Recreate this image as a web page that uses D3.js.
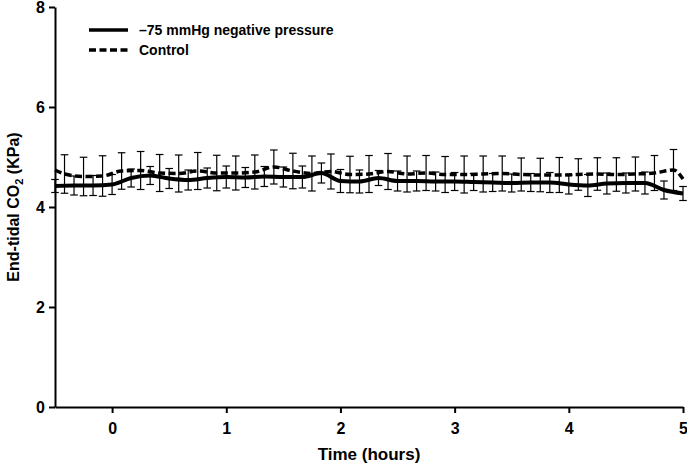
<!DOCTYPE html>
<html>
<head>
<meta charset="utf-8">
<script src="https://cdn.jsdelivr.net/npm/d3@7"></script>
<style>
  html, body { margin: 0; padding: 0; background: #fff; }
  svg { display: block; font-family: "Liberation Sans", Arial, sans-serif; }
</style>
</head>
<body>
<svg id="chart" width="687" height="464"></svg>
<script>
// ---- Data (time in minutes, values in KPa) ----
const negTimes = [-30,-20,-10,0,10,20,30,40,50,60,70,80,90,100,110,120,130,140,150,160,170,180,190,200,210,220,230,240,250,260,270,280,290,300];
const negMeans = [4.42,4.43,4.43,4.45,4.58,4.63,4.57,4.54,4.58,4.60,4.59,4.61,4.60,4.60,4.68,4.52,4.51,4.58,4.52,4.52,4.51,4.51,4.50,4.49,4.48,4.49,4.49,4.45,4.43,4.47,4.48,4.48,4.34,4.27];
const negSD    = [0.13,0.19,0.20,0.20,0.18,0.18,0.20,0.20,0.20,0.22,0.20,0.20,0.20,0.22,0.20,0.23,0.23,0.15,0.20,0.20,0.19,0.18,0.17,0.18,0.18,0.18,0.20,0.19,0.22,0.21,0.20,0.22,0.18,0.14];

const ctrlTimes = [-30,-25,-15,-5,5,15,25,35,45,55,65,75,85,95,105,115,125,135,145,155,165,175,185,195,205,215,225,235,245,255,265,275,285,295,300];
const ctrlMeans = [4.74,4.66,4.61,4.62,4.72,4.73,4.68,4.67,4.72,4.68,4.68,4.70,4.80,4.72,4.67,4.71,4.65,4.66,4.71,4.66,4.68,4.65,4.65,4.66,4.67,4.65,4.64,4.64,4.65,4.66,4.65,4.66,4.68,4.74,4.56];
const ctrlSD    = [null,0.385,0.385,0.405,0.365,0.38,0.37,0.37,0.37,0.355,0.34,0.34,0.34,0.355,0.35,0.35,0.365,0.37,0.36,0.36,0.35,0.36,0.37,0.36,0.35,0.33,0.335,0.35,0.315,0.325,0.335,0.34,0.35,0.41,null];

const xTicks = [0,1,2,3,4,5];
const yTicks = [0,2,4,6,8];
const seriesNames = ["\u201375 mmHg negative pressure", "Control"];

// ---- Layout ----
const svg = d3.select("#chart");
const margin = {left: 55, right: 4, top: 7, bottom: 57};
const W = 687, H = 464;
const x = d3.scaleLinear().domain([-0.5, 5]).range([margin.left, W - margin.right]);
const y = d3.scaleLinear().domain([0, 8]).range([H - margin.bottom, margin.top]);

const neg = negTimes.map((t, i) => ({t: t / 60, m: negMeans[i], sd: negSD[i]}));
const ctrl = ctrlTimes.map((t, i) => ({t: t / 60, m: ctrlMeans[i], sd: ctrlSD[i]}));

const line = d3.line().x(d => x(d.t)).y(d => y(d.m)).curve(d3.curveMonotoneX);

// error bars
function errorBars(data, cls) {
  const g = svg.append("g").attr("class", cls).attr("stroke", "#000").attr("stroke-width", 1.2).attr("fill", "none");
  const d2 = data.filter(d => d.sd != null);
  const cap = 3.8;
  g.selectAll("line.v").data(d2).join("line").attr("class", "v")
    .attr("x1", d => x(d.t)).attr("x2", d => x(d.t))
    .attr("y1", d => y(d.m + d.sd)).attr("y2", d => y(d.m - d.sd));
  g.selectAll("line.t").data(d2).join("line").attr("class", "t")
    .attr("x1", d => x(d.t) - cap).attr("x2", d => x(d.t) + cap)
    .attr("y1", d => y(d.m + d.sd)).attr("y2", d => y(d.m + d.sd));
  g.selectAll("line.b").data(d2).join("line").attr("class", "b")
    .attr("x1", d => x(d.t) - cap).attr("x2", d => x(d.t) + cap)
    .attr("y1", d => y(d.m - d.sd)).attr("y2", d => y(d.m - d.sd));
}
errorBars(ctrl, "err-ctrl");
errorBars(neg, "err-neg");

svg.append("path").datum(ctrl).attr("d", line)
  .attr("fill", "none").attr("stroke", "#000").attr("stroke-width", 3.5)
  .attr("stroke-dasharray", "7,3.5");
svg.append("path").datum(neg).attr("d", line)
  .attr("fill", "none").attr("stroke", "#000").attr("stroke-width", 4);

// axes
const xAxis = svg.append("g").attr("transform", `translate(0,${y(0)})`)
  .call(d3.axisBottom(x).tickValues(xTicks).tickFormat(d3.format("d")).tickSize(6).tickSizeOuter(0));
const yAxis = svg.append("g").attr("transform", `translate(${x(-0.5)},0)`)
  .call(d3.axisLeft(y).tickValues(yTicks).tickFormat(d3.format("d")).tickSize(6).tickSizeOuter(0));
[xAxis, yAxis].forEach(a => {
  a.select(".domain").attr("stroke", "#000").attr("stroke-width", 2);
  a.selectAll(".tick line").attr("stroke", "#000").attr("stroke-width", 2);
  a.selectAll(".tick text").attr("fill", "#000").style("font-size", "16px").style("font-weight", "bold")
    .style("font-family", "'Liberation Sans', Arial, sans-serif");
});
xAxis.selectAll(".tick text").attr("dy", "0").attr("y", 27);
yAxis.selectAll(".tick text").attr("x", -10).attr("dy", "0.36em");

// axis titles
svg.append("text").attr("x", (x(-0.5) + x(5)) / 2).attr("y", 460)
  .attr("text-anchor", "middle").style("font-size", "17px").style("font-weight", "bold")
  .text("Time (hours)");
const yt = svg.append("text").attr("transform", `translate(19,${(y(0) + y(8)) / 2}) rotate(-90)`)
  .attr("text-anchor", "middle").style("font-size", "16px").style("font-weight", "bold");
yt.append("tspan").text("End-tidal CO");
yt.append("tspan").attr("dy", 4).style("font-size", "11px").text("2");
yt.append("tspan").attr("dy", -4).text(" (KPa)");

// legend
const leg = svg.append("g");
const legRows = seriesNames.map((n, i) => ({name: n, dash: i === 1}));
leg.selectAll("line").data(legRows).join("line")
  .attr("x1", 89).attr("x2", 128)
  .attr("y1", (d, i) => 30 + i * 20).attr("y2", (d, i) => 30 + i * 20)
  .attr("stroke", "#000").attr("stroke-width", 3.5)
  .attr("stroke-dasharray", d => d.dash ? "7,3.5" : null);
leg.selectAll("text").data(legRows).join("text")
  .attr("x", 139).attr("y", (d, i) => 30 + i * 20).attr("dy", "0.36em")
  .style("font-size", "14px").style("font-weight", "bold")
  .text(d => d.name);
</script>
</body>
</html>
